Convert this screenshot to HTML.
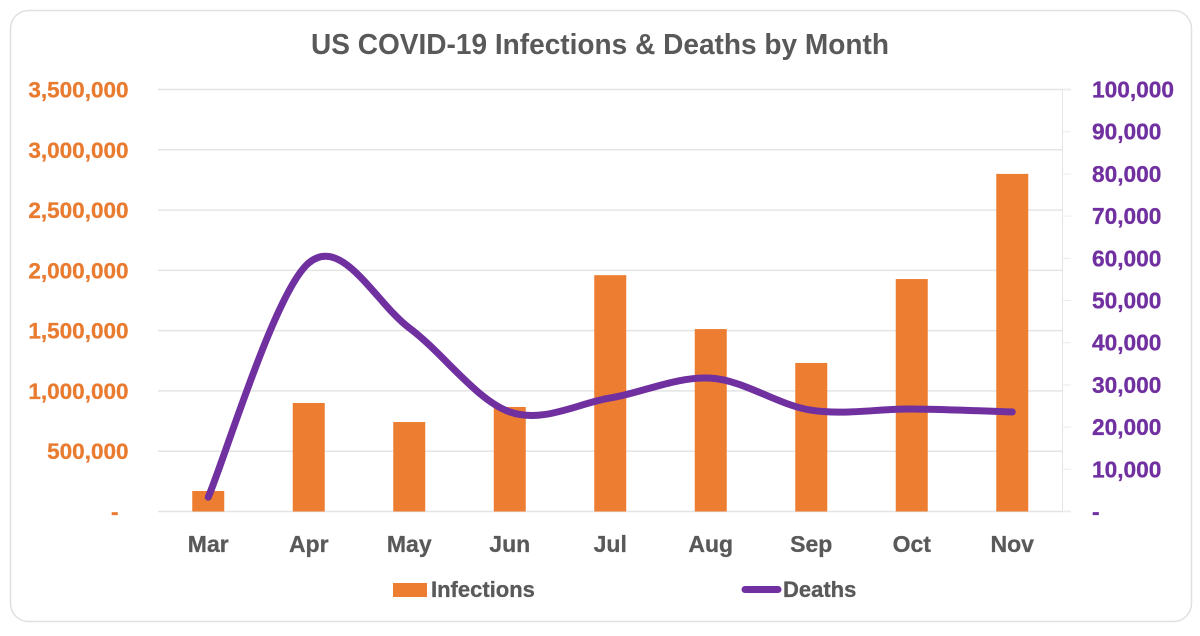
<!DOCTYPE html>
<html lang="en">
<head>
<meta charset="utf-8">
<title>US COVID-19 Infections &amp; Deaths by Month</title>
<style>
html,body{margin:0;padding:0;background:#fff;width:1200px;height:636px;overflow:hidden}
svg{display:block}
text{font-family:"Liberation Sans",sans-serif;font-weight:700}
</style>
</head>
<body>
<svg id="chart" width="1200" height="636" viewBox="0 0 1200 636" xmlns="http://www.w3.org/2000/svg">
  <rect x="10.5" y="10.5" width="1181" height="611" rx="18" ry="18" fill="#fff" stroke="#e0e0e0" stroke-width="1.5"/>
  <text x="600" y="54" text-anchor="middle" font-size="29" fill="#595959" textLength="578" lengthAdjust="spacingAndGlyphs">US COVID-19 Infections &amp; Deaths by Month</text>
  <g id="grid"></g>
  <g id="right-axis"></g>
  <g id="bars"></g>
  <path id="deaths-line" fill="none" stroke="#7030a0" stroke-width="7" stroke-linecap="round" stroke-linejoin="round"/>
  <g id="left-labels"></g>
  <g id="right-labels"></g>
  <g id="cat-labels"></g>
  <g>
    <g>
      <rect x="393" y="583" width="34" height="14" fill="#ed7d31"/>
      <text x="431" y="597" font-size="22" fill="#595959" stroke="#595959" stroke-width="0.3">Infections</text>
    </g>
    <g>
      <line x1="745" y1="589.5" x2="778" y2="589.5" stroke="#7030a0" stroke-width="7" stroke-linecap="round"/>
      <text x="783" y="597" font-size="22" fill="#595959" stroke="#595959" stroke-width="0.3">Deaths</text>
    </g>
  </g>
</svg>
<script>
const categories = ["Mar","Apr","May","Jun","Jul","Aug","Sep","Oct","Nov"];
const infections = [170000,900000,742000,867000,1960000,1513000,1232000,1928000,2800000];
const deaths = [3400,58900,43500,23600,26900,31600,24000,24300,23600];
const leftTicks = [0,500000,1000000,1500000,2000000,2500000,3000000,3500000];
const rightTicks = [0,10000,20000,30000,40000,50000,60000,70000,80000,90000,100000];
const leftMax = 3500000;
const rightMax = 100000;

const NS = "http://www.w3.org/2000/svg";
const plotLeft = 158, plotRight = 1062.5, plotTop = 89.5, plotBottom = 511.5;
const barWidth = 32;

function xC(i){ return plotLeft + (plotRight - plotLeft) * (i + 0.5) / categories.length; }
function yL(v){ return plotBottom - (plotBottom - plotTop) * v / leftMax; }
function yR(v){ return plotBottom - (plotBottom - plotTop) * v / rightMax; }
function fmt(v){ return v === 0 ? "-" : v.toLocaleString("en-US"); }
function make(tag, attrs, parentId){
  const el = document.createElementNS(NS, tag);
  for (const k in attrs) el.setAttribute(k, attrs[k]);
  document.getElementById(parentId).appendChild(el);
  return el;
}

leftTicks.forEach(function(t){
  const top = t === leftMax || t === 0;
  const g = make("line", {x1: plotLeft, x2: top ? 1071 : plotRight, y1: yL(t), y2: yL(t), stroke: "#e4e4e4", "stroke-width": 1.5}, "grid");
  
  
  const lb = make("text", {x: t === 0 ? 118.5 : 128.5, y: yL(t) + 8, "text-anchor": "end", "font-size": 22.5, fill: "#e97b30", stroke: "#e97b30", "stroke-width": 0.3}, "left-labels");
  lb.textContent = fmt(t);
  
  
});

const axisLine = make("line", {x1: plotRight, x2: plotRight, y1: plotTop, y2: plotBottom, stroke: "#e4e4e4", "stroke-width": 1}, "right-axis");



rightTicks.forEach(function(t){
  const tick = make("line", {x1: plotRight, x2: 1071, y1: yR(t), y2: yR(t), stroke: "#ebebeb", "stroke-width": 1}, "right-axis");
  
  
  const lb = make("text", {x: 1092, y: yR(t) + 8, "font-size": 22.7, fill: "#7030a0", stroke: "#7030a0", "stroke-width": 0.3}, "right-labels");
  lb.textContent = fmt(t);
  
  
});

categories.forEach(function(c, i){
  const bar = make("rect", {x: xC(i) - barWidth / 2, y: yL(infections[i]), width: barWidth, height: plotBottom - yL(infections[i]), fill: "#ed7d31"}, "bars");
  
  
  const lb = make("text", {x: xC(i), y: 552, "text-anchor": "middle", "font-size": 23, fill: "#595959", stroke: "#595959", "stroke-width": 0.3}, "cat-labels");
  lb.textContent = c;
  
  
});

const pts = deaths.map(function(v, i){ return [xC(i), yR(v)]; });
let d = "M" + pts[0][0] + " " + pts[0][1];
for (let i = 0; i < pts.length - 1; i++) {
  const p0 = pts[Math.max(i - 1, 0)], p1 = pts[i], p2 = pts[i + 1], p3 = pts[Math.min(i + 2, pts.length - 1)];
  const c1x = p1[0] + (p2[0] - p0[0]) / 6, c1y = p1[1] + (p2[1] - p0[1]) / 6;
  const c2x = p2[0] - (p3[0] - p1[0]) / 6, c2y = p2[1] - (p3[1] - p1[1]) / 6;
  d += " C" + c1x + " " + c1y + " " + c2x + " " + c2y + " " + p2[0] + " " + p2[1];
}
document.getElementById("deaths-line").setAttribute("d", d);
</script>
</body>
</html>
